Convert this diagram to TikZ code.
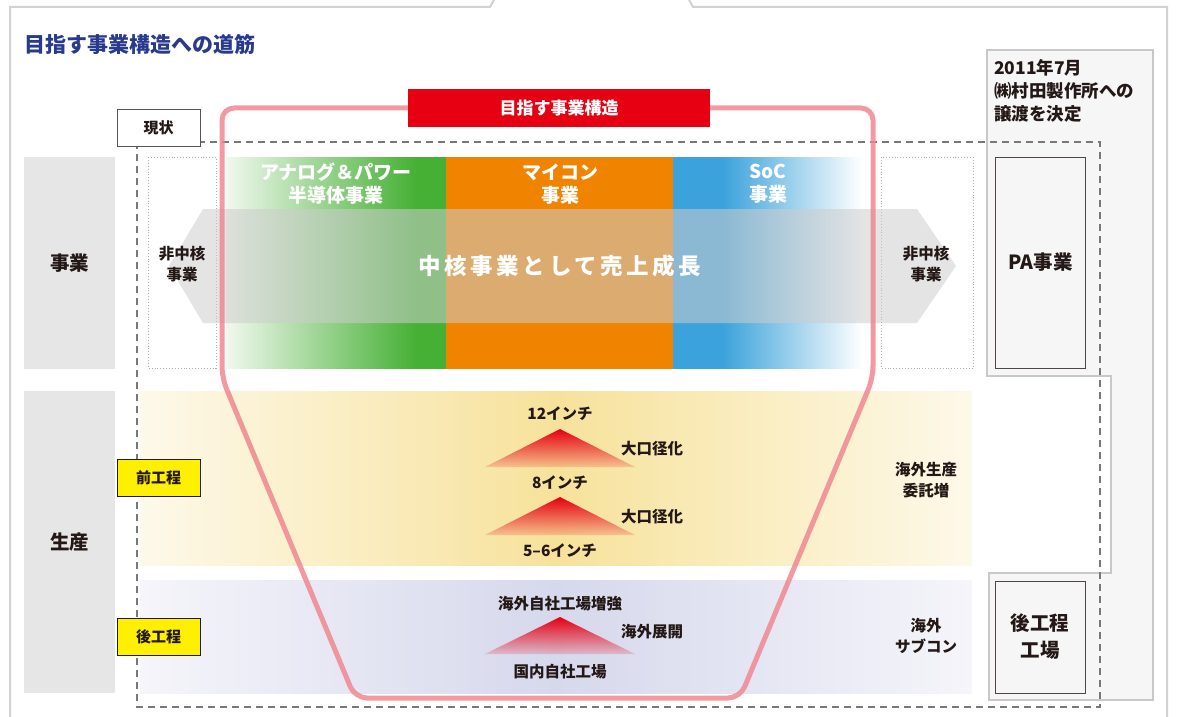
\documentclass[tikz,border=0pt]{standalone}
\usepackage{fontspec}
\setmainfont{Noto Sans CJK JP}
\usetikzlibrary{fadings}
\definecolor{textdark}{RGB}{35,24,21}
\definecolor{titleblue}{RGB}{40,58,142}
\definecolor{framegray}{RGB}{210,210,210}
\definecolor{boxgray}{RGB}{230,230,230}
\definecolor{dashgray}{RGB}{120,120,120}
\definecolor{dotgray}{RGB}{175,175,175}
\definecolor{barGreen}{RGB}{70,176,53}
\definecolor{barGreenPale}{RGB}{240,248,238}
\definecolor{barOrange}{RGB}{240,131,0}
\definecolor{barBlue}{RGB}{59,162,219}
\definecolor{markRed}{RGB}{230,0,18}
\definecolor{pinkLine}{RGB}{240,135,145}
\definecolor{ylwLight}{RGB}{253,249,234}
\definecolor{ylwMid}{RGB}{247,226,155}
\definecolor{purLight}{RGB}{245,245,250}
\definecolor{purMid}{RGB}{214,216,236}
\definecolor{labelYellow}{RGB}{255,240,0}
\definecolor{panelFill}{RGB}{246,246,246}
\definecolor{panelLine}{RGB}{200,200,200}
\definecolor{bandGray}{RGB}{205,205,205}
\pgfdeclarehorizontalshading{greenbar}{100bp}{color(0bp)=(barGreenPale); color(25bp)=(barGreenPale); color(68bp)=(barGreen); color(100bp)=(barGreen)}
\pgfdeclarehorizontalshading{bluebar}{100bp}{color(0bp)=(barBlue); color(38bp)=(barBlue); color(75bp)=(white); color(100bp)=(white)}
\pgfdeclarehorizontalshading{orangebar}{100bp}{color(0bp)=(barOrange); color(100bp)=(barOrange)}
\tikzfading[name=fadedown, top color=transparent!0, bottom color=transparent!85]
\newcommand{\fsz}[2]{\fontsize{#1}{#2}\selectfont}
\tikzset{
  txt/.style={text=textdark, align=center, inner sep=0pt, font=\bfseries\fsz{15.5}{20.5}},
  whitetxt/.style={text=white, align=center, inner sep=0pt, font=\bfseries\fsz{19}{23}},
  tagbox/.style={draw=textdark, line width=0.9pt, fill=labelYellow, minimum width=83pt, minimum height=37pt, inner sep=0pt, text=textdark, font=\bfseries\fsz{15}{20}},
  sidebox/.style={fill=boxgray, draw=none, minimum width=91pt, inner sep=0pt, text=textdark, font=\bfseries\fsz{19.5}{24}},
  dotbox/.style={draw=dotgray, dotted, line width=0.9pt},
  tri/.style={fill=markRed, path fading=fadedown},
  whitebox/.style={draw=textdark!80, line width=0.9pt, fill=panelFill, minimum width=90pt, inner sep=0pt, align=center, text=textdark, font=\bfseries\fsz{19.5}{27}}
}
\begin{document}
\begin{tikzpicture}[x=1pt,y=-1pt]
\useasboundingbox (0,0) rectangle (1179,717);
% outer frame with tab
\draw[framegray, line width=2pt] (10,718) -- (10,7) -- (490,7) -- (495,-2);
\draw[framegray, line width=2pt] (688,-2) -- (693,7) -- (1167,7) -- (1167,718);
% title
\node[anchor=west, text=titleblue, inner sep=0pt, font=\bfseries\fsz{21}{24}] (title) at (24,44) {目指す事業構造への道筋};
% right panel
\draw[draw=panelLine, fill=panelFill, line width=2.5pt] (987,50) -- (1153,50) -- (1153,700) -- (989,700) -- (989,573) -- (1111,573) -- (1111,376) -- (987,376) -- cycle;
\node[anchor=north west, text=textdark, align=left, inner sep=0pt, font=\bfseries\fsz{17.5}{23}] (decision) at (994,59) {2011年7月\\㈱村田製作所への\\譲渡を決定};
\node[whitebox, minimum height=211pt] (pa) at (1040.5,262.5) {PA事業};
\node[whitebox, minimum height=112pt] (backfab) at (1040,637) {後工程\\工場};
% left side labels
\node[sidebox, minimum height=212pt] (bizlabel) at (69.5,263) {事業};
\node[sidebox, minimum height=302pt] (prodlabel) at (69.5,542) {生産};
% production bands
\shade[left color=ylwLight, right color=ylwLight, middle color=ylwMid] (140,391) rectangle (972,565);
\shade[left color=purLight, right color=purLight, middle color=purMid] (140,580) rectangle (972,693);
% dotted boxes
\draw[dotbox] (148,157) rectangle (216,368);
\draw[dotbox] (881,157) rectangle (973,368);
% business bars
\shade[shading=greenbar] (226,157) rectangle (446.5,368);
\shade[shading=orangebar] (446,157) rectangle (673.5,368);
\shade[shading=bluebar] (673,157) rectangle (862,368);
\node[whitetxt] (analog) at (336,184) {アナログ＆パワー\\半導体事業};
\node[whitetxt] (micon) at (560,184) {マイコン\\事業};
\node[whitetxt] (soc) at (768,184) {SoC\\事業};
% gray arrow band
\fill[bandGray, opacity=0.55] (169,266) -- (203,209) -- (917,209) -- (956,266) -- (917,323) -- (203,323) -- cycle;
\node[text=white, inner sep=0pt, font=\bfseries\fsz{22.5}{26}\addfontfeature{LetterSpace=16}] (core) at (560,266) {中核事業として売上成長};
\node[txt] (noncoreL) at (182,264) {非中核\\事業};
\node[txt] (noncoreR) at (926,264) {非中核\\事業};
% triangles
\fill[tri] (560,429) -- (635,467) -- (485,467) -- cycle;
\fill[tri] (560,497) -- (635,535) -- (485,535) -- cycle;
\fill[tri] (560,617) -- (635,654) -- (485,654) -- cycle;
\node[txt] (inch12) at (560,414) {12インチ};
\node[txt] (big1) at (652,449) {大口径化};
\node[txt] (inch8) at (560,483) {8インチ};
\node[txt] (big2) at (652,517) {大口径化};
\node[txt] (inch56) at (560,551) {5–6インチ};
\node[txt] (ovsplant) at (560,604) {海外自社工場増強};
\node[txt] (ovsexp) at (652,632) {海外展開};
\node[txt] (domplant) at (560,672) {国内自社工場};
\node[txt] (consign) at (926,480) {海外生産\\委託増};
\node[txt] (subcon) at (926,636) {海外\\サブコン};
% dashed frame
\draw[dashgray, line width=1.2pt, dash pattern=on 7pt off 5pt] (137,142) rectangle (1100,707);
\node[draw=textdark!75, line width=0.9pt, fill=white, minimum width=83pt, minimum height=37pt, inner sep=0pt, text=textdark, font=\bfseries\fsz{15}{20}] (now) at (158.5,127.5) {現状};
% target outline
\draw[pinkLine, line width=5pt, opacity=0.85, rounded corners=12pt] (222,378) -- (222,108) -- (873,108) -- (873,378) -- (740,698) -- (355,698) -- cycle;
\node[fill=markRed, minimum width=302pt, minimum height=38pt, inner sep=0pt, text=white, font=\bfseries\fsz{17}{20}] (target) at (559,108) {目指す事業構造};
% yellow tags
\node[tagbox] (front) at (158.5,477.5) {前工程};
\node[tagbox] (back) at (158.5,637) {後工程};
\end{tikzpicture}
\end{document}
